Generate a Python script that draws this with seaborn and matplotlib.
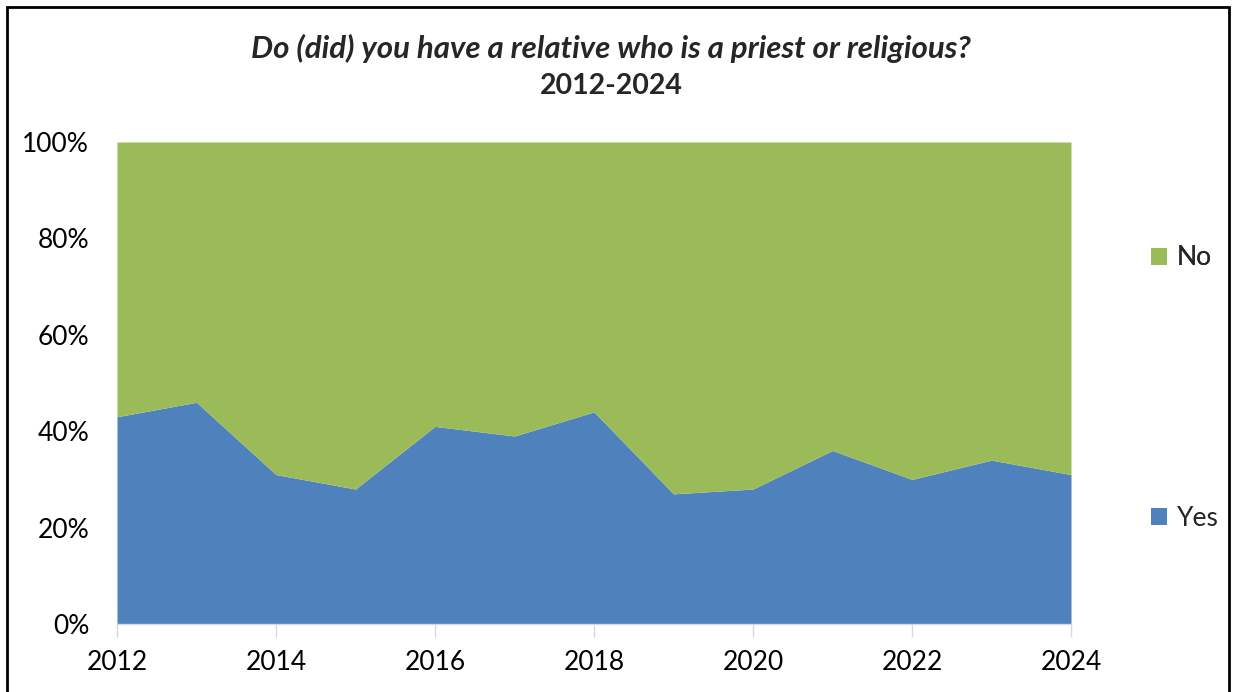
import matplotlib
matplotlib.use("Agg")
import matplotlib.pyplot as plt
from matplotlib.patches import Patch, Rectangle
from matplotlib.ticker import FuncFormatter
import seaborn as sns
import pandas as pd

years = [2012, 2013, 2014, 2015, 2016, 2017, 2018, 2019, 2020, 2021, 2022, 2023, 2024]
yes_pct = [43, 46, 31, 28, 41, 39, 44, 27, 28, 36, 30, 34, 31]
no_pct = [100 - v for v in yes_pct]
series_names = ["Yes", "No"]
series_colors = ["#4F81BD", "#9BBB59"]
title_line1 = "Do (did) you have a relative who is a priest or religious?"
title_line2 = "2012-2024"

df = pd.DataFrame({"year": years, "Yes": yes_pct, "No": no_pct})

sns.set_theme(style="white")
plt.rcParams["font.family"] = ["Lato", "DejaVu Sans"]

W, H = 1233, 692
fig = plt.figure(figsize=(W / 100, H / 100), dpi=100)
ax = fig.add_axes([117 / W, 1 - 624 / H, (1071 - 117) / W, (624 - 142) / H])

ax.stackplot(df["year"], df["Yes"], df["No"], colors=series_colors, linewidth=0)

ax.set_xlim(2012, 2024)
ax.set_ylim(0, 100)
ax.set_xticks(range(2012, 2025, 2))
ax.set_yticks(range(0, 101, 20))
ax.yaxis.set_major_formatter(FuncFormatter(lambda v, _: f"{v:.0f}%"))
ax.tick_params(axis="both", labelsize=19, colors="black")
ax.tick_params(axis="x", length=9, width=1, color="#D9D9D9", direction="out", pad=10, bottom=True)
ax.tick_params(axis="y", length=0, pad=20)

for side in ["top", "right", "left"]:
    ax.spines[side].set_visible(False)
ax.spines["bottom"].set_color("#D9D9D9")
ax.spines["bottom"].set_linewidth(1)

# Title, two lines
fig.text(611 / W, 1 - 48 / H, title_line1, ha="center", va="center",
         fontsize=22.5, fontweight="bold", fontstyle="italic")
fig.text(611 / W, 1 - 86 / H, title_line2, ha="center", va="center",
         fontsize=20.5, fontweight="bold")

# Legend entries, spaced like the chart's side legend
legend_kw = dict(loc="center left", frameon=False, fontsize=19,
                 handlelength=0.62, handleheight=0.62, handletextpad=0.35,
                 borderaxespad=0, borderpad=0)
leg_no = fig.legend(handles=[Patch(facecolor=series_colors[1], edgecolor="none")],
                    labels=[series_names[1]],
                    bbox_to_anchor=(1151 / W, 1 - 258 / H), **legend_kw)
fig.add_artist(leg_no)
fig.legend(handles=[Patch(facecolor=series_colors[0], edgecolor="none")],
           labels=[series_names[0]],
           bbox_to_anchor=(1151 / W, 1 - 518 / H), **legend_kw)

# Outer chart border
fig.add_artist(Rectangle((7 / W, -0.01), (1229 - 7) / W, 1 - 7 / H + 0.01,
                         transform=fig.transFigure, fill=False, edgecolor="black",
                         linewidth=2))

fig.savefig("out.png", dpi=100)
